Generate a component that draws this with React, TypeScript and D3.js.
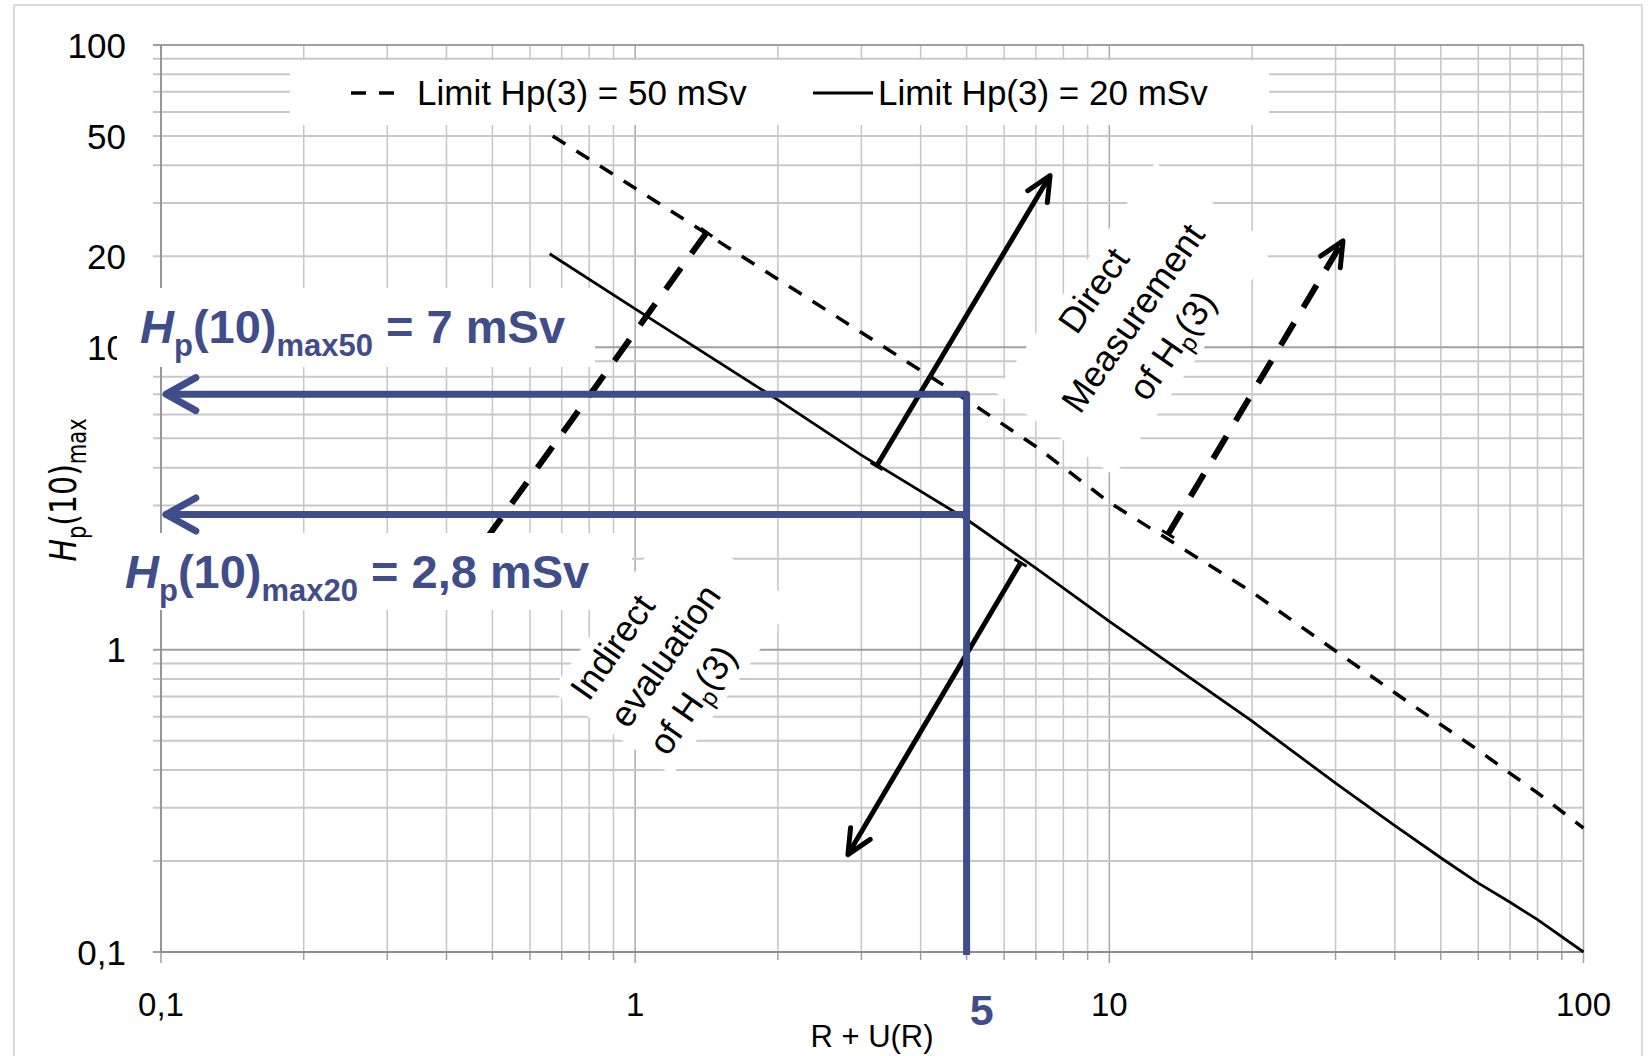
import React, { useEffect, useRef } from 'react';
import * as d3 from 'd3';

// limit curves (R + U(R) -> Hp(10)max)
const r20 = [0.66, 1, 2, 3, 5, 7, 10, 20, 30, 40, 50, 60, 70, 80, 100];
const limit20 = [20.4, 13.4, 6.7, 4.4, 2.7, 1.86, 1.24, 0.58, 0.362, 0.262, 0.205, 0.169, 0.146, 0.128, 0.1];
const r50 = [0.67, 1, 2, 3, 5, 7, 10, 20, 30, 40, 50, 60, 70, 80, 100];
const limit50 = [50, 33.6, 16.8, 11.2, 6.7, 4.7, 3.07, 1.55, 0.99, 0.72, 0.565, 0.465, 0.39, 0.336, 0.257];

const yTickLabels = [100, 50, 20, 10, 1, 0.1];
const xTickLabels = [0.1, 1, 10, 100];
const legendLabels = ['Limit Hp(3) = 50 mSv', 'Limit Hp(3) = 20 mSv'];

// annotation arrows in data units [R + U(R), Hp(10)]
const directArrow = [[3.23, 4.05], [7.5, 37]];
const indirectArrow = [[6.5, 1.94], [2.81, 0.21]];
const dashedArrow = [[13.3, 2.41], [31.1, 22.5]];
const dashedGuide = [[1.415, 24], [0.453, 2.0]];

// reading for R + U(R) = 5
const readR = 5;
const readHp = [7, 2.8];
const readLabels = [['max50', ' = 7 mSv'], ['max20', ' = 2,8 mSv']];
const arrowTipR = 0.1025;

const BLUE = '#3f4d8a';
const SANS = '"Liberation Sans", Arial, sans-serif';

function drawChart(node: SVGSVGElement) {
  const svg = d3.select(node);
  svg.selectAll('*').remove();

  const left = 161, right = 1583.5, top = 45, bottom = 952;
  const x = d3.scaleLog().domain([0.1, 100]).range([left, right]);
  const y = d3.scaleLog().domain([0.1, 100]).range([bottom, top]);
  const isMajor = (v: number) => Math.abs(Math.log10(v) - Math.round(Math.log10(v))) < 1e-6;
  const fmt = (v: number) => String(v).replace('.', ',');

  svg.append('rect').attr('width', 1650).attr('height', 1056).attr('fill', 'white');
  svg.append('rect').attr('x', 14).attr('y', 5).attr('width', 1628).attr('height', 1100)
    .attr('fill', 'none').attr('stroke', '#d0d0d0').attr('stroke-width', 1.5);

  // grid
  const grid = svg.append('g');
  grid.selectAll('line.v').data(x.ticks()).enter().append('line')
    .attr('x1', d => x(d)).attr('x2', d => x(d)).attr('y1', top).attr('y2', bottom)
    .attr('stroke', d => isMajor(d) ? '#a8a8a8' : '#c6c6c6').attr('stroke-width', 1.5);
  grid.selectAll('line.h').data(y.ticks()).enter().append('line')
    .attr('x1', left - 8).attr('x2', right).attr('y1', d => y(d)).attr('y2', d => y(d))
    .attr('stroke', d => isMajor(d) ? '#a0a0a0' : '#c8c8c8').attr('stroke-width', 2);
  grid.selectAll('line.t').data(x.ticks()).enter().append('line')
    .attr('x1', d => x(d)).attr('x2', d => x(d)).attr('y1', bottom).attr('y2', d => bottom + (isMajor(d) ? 11 : 8))
    .attr('stroke', '#a0a0a0').attr('stroke-width', 1.5);
  grid.append('line').attr('x1', left).attr('x2', left).attr('y1', top).attr('y2', bottom)
    .attr('stroke', '#888').attr('stroke-width', 1.5);
  grid.append('line').attr('x1', left).attr('x2', right).attr('y1', bottom).attr('y2', bottom)
    .attr('stroke', '#888').attr('stroke-width', 1.5);

  // tick labels
  svg.selectAll('text.yl').data(yTickLabels).enter().append('text')
    .attr('x', 126).attr('y', d => y(d)).attr('dy', '0.36em').attr('text-anchor', 'end')
    .style('font-family', SANS).style('font-size', '35px').text(fmt);
  svg.selectAll('text.xl').data(xTickLabels).enter().append('text')
    .attr('x', d => x(d)).attr('y', 1016).attr('text-anchor', 'middle')
    .style('font-family', SANS).style('font-size', '33px').text(fmt);
  svg.append('text').attr('x', 872).attr('y', 1047).attr('text-anchor', 'middle')
    .style('font-family', SANS).style('font-size', '31px').text('R + U(R)');

  const yt = svg.append('text').attr('transform', 'translate(76,490) scale(1.25,1) rotate(-90)')
    .attr('text-anchor', 'middle').style('font-family', '"DejaVu Sans", Verdana, sans-serif').style('font-size', '30px');
  yt.append('tspan').style('font-style', 'italic').text('H');
  yt.append('tspan').attr('dy', 8).style('font-size', '21px').text('p');
  yt.append('tspan').attr('dy', -8).text('(10)');
  yt.append('tspan').attr('dy', 8).style('font-size', '21px').text('max');

  // rotated notes: white boxes hide the grid, text goes on top later
  const noteGroups: any[] = [];
  const note = (ax: number, ay: number, anchor: string, lines: string[], box: number[]) => {
    const g = svg.append('g').attr('transform', `translate(${ax},${ay}) rotate(-55)`);
    g.append('rect').attr('x', box[0]).attr('y', box[1]).attr('width', box[2]).attr('height', box[3]).attr('fill', 'white');
    noteGroups.push({ g, anchor, lines });
  };
  note(1143, 325, 'middle', ['Direct', 'Measurement', 'of Hp(3)'], [-140, -83, 280, 146]);
  note(628, 730, 'start', ['Indirect', 'evaluation', 'of Hp(3)'], [-12, -85, 212, 147]);

  // limit curves
  const line = d3.line<[number, number]>().x(d => x(d[0])).y(d => y(d[1]));
  svg.append('path').datum(r50.map((r, i) => [r, limit50[i]] as [number, number]))
    .attr('d', line).attr('fill', 'none').attr('stroke', '#000').attr('stroke-width', 3.5)
    .attr('stroke-dasharray', '15 13');
  svg.append('path').datum(r20.map((r, i) => [r, limit20[i]] as [number, number]))
    .attr('d', line).attr('fill', 'none').attr('stroke', '#000').attr('stroke-width', 2.8);

  // arrows
  const px = (p: number[]) => [x(p[0]), y(p[1])];
  const head = (tip: number[], from: number[], len: number, ang: number) => {
    const a = Math.atan2(from[1] - tip[1], from[0] - tip[0]);
    const r = ang * Math.PI / 180;
    return `M${tip[0] + len * Math.cos(a + r)},${tip[1] + len * Math.sin(a + r)}L${tip[0]},${tip[1]}L${tip[0] + len * Math.cos(a - r)},${tip[1] + len * Math.sin(a - r)}`;
  };
  const foot = (p: number[], q: number[], len: number) => {
    const a = Math.atan2(q[1] - p[1], q[0] - p[0]) + Math.PI / 2;
    return `M${p[0] - len * Math.cos(a)},${p[1] - len * Math.sin(a)}L${p[0] + len * Math.cos(a)},${p[1] + len * Math.sin(a)}`;
  };
  const arrow = (pts: number[][], dashed: boolean, withHead: boolean) => {
    const a = px(pts[0]), b = px(pts[1]);
    const g = svg.append('g').attr('fill', 'none').attr('stroke', '#000');
    g.append('path').attr('d', `M${a[0]},${a[1]}L${b[0]},${b[1]}`).attr('stroke-width', dashed ? 6 : 5)
      .attr('stroke-dasharray', dashed ? '26 18' : null);
    g.append('path').attr('d', foot(a, b, 7)).attr('stroke-width', 3);
    if (withHead) {
      g.append('path').attr('d', head(b, a, 27, 25)).attr('stroke-width', 5)
        .attr('stroke-linecap', 'round').attr('stroke-linejoin', 'round');
    }
  };
  arrow(directArrow, false, true);
  arrow(indirectArrow, false, true);
  arrow(dashedArrow, true, true);
  arrow(dashedGuide, true, false);

  // note texts
  noteGroups.forEach(({ g, anchor, lines }) => {
    lines.forEach((ln: string, i: number) => {
      const t = g.append('text').attr('x', 0).attr('y', (i - 1) * 48).attr('text-anchor', anchor)
        .style('font-family', SANS).style('font-size', '36px');
      if (ln.includes('Hp')) {
        t.append('tspan').text('of H');
        t.append('tspan').attr('dy', 8).style('font-size', '24px').text('p');
        t.append('tspan').attr('dy', -8).text('(3)');
      } else {
        t.text(ln);
      }
    });
  });

  // legend
  const lg = svg.append('g');
  lg.append('rect').attr('x', 290).attr('y', 60).attr('width', 979).attr('height', 65).attr('fill', 'white');
  lg.append('line').attr('x1', 351).attr('x2', 394).attr('y1', 93).attr('y2', 93)
    .attr('stroke', '#000').attr('stroke-width', 3.5).attr('stroke-dasharray', '15 13');
  lg.append('line').attr('x1', 813).attr('x2', 873).attr('y1', 93).attr('y2', 93)
    .attr('stroke', '#000').attr('stroke-width', 3);
  lg.selectAll('text').data(legendLabels).enter().append('text')
    .attr('x', (d, i) => i === 0 ? 417 : 878).attr('y', 105)
    .style('font-family', SANS).style('font-size', '35px').text(d => d);

  // reading boxes and labels
  const boxes = [[117, 288, 478, 79], [100, 533, 532, 77]];
  const starts = [[140, 343], [125, 588]];
  readLabels.forEach((lab, i) => {
    svg.append('rect').attr('x', boxes[i][0]).attr('y', boxes[i][1]).attr('width', boxes[i][2])
      .attr('height', boxes[i][3]).attr('fill', 'white');
    const t = svg.append('text').attr('x', starts[i][0]).attr('y', starts[i][1]).attr('fill', BLUE)
      .style('font-family', SANS).style('font-size', '47px').style('font-weight', 'bold');
    t.append('tspan').style('font-style', 'italic').text('H');
    t.append('tspan').attr('dy', 13).style('font-size', '31px').text('p');
    t.append('tspan').attr('dy', -13).text('(10)');
    t.append('tspan').attr('dy', 13).style('font-size', '31px').text(lab[0]);
    t.append('tspan').attr('dy', -13).text(lab[1]);
  });

  // blue reading lines
  const bx = x(readR);
  const blue = svg.append('g').attr('fill', 'none').attr('stroke', BLUE).attr('stroke-width', 7)
    .attr('stroke-linecap', 'round').attr('stroke-linejoin', 'round');
  blue.append('path').attr('d', `M${x(arrowTipR)},${y(readHp[0])}H${bx}V${bottom + 3}`).attr('stroke-linecap', 'butt');
  blue.append('path').attr('d', `M${x(arrowTipR)},${y(readHp[1])}H${bx}`);
  readHp.forEach(v => {
    const tip = [x(arrowTipR), y(v)];
    blue.append('path').attr('d', head(tip, [bx, y(v)], 34, 29));
  });
  svg.append('text').attr('x', bx + 15).attr('y', 1025).attr('text-anchor', 'middle').attr('fill', BLUE)
    .style('font-family', SANS).style('font-size', '43px').style('font-weight', 'bold').text(String(readR));
}

export default function App() {
  const ref = useRef<SVGSVGElement>(null);
  useEffect(() => {
    if (ref.current) drawChart(ref.current);
  }, []);
  return (
    <svg ref={ref} width={1650} height={1056}
      style={{ position: 'absolute', left: 0, top: 0, display: 'block' }} />
  );
}
